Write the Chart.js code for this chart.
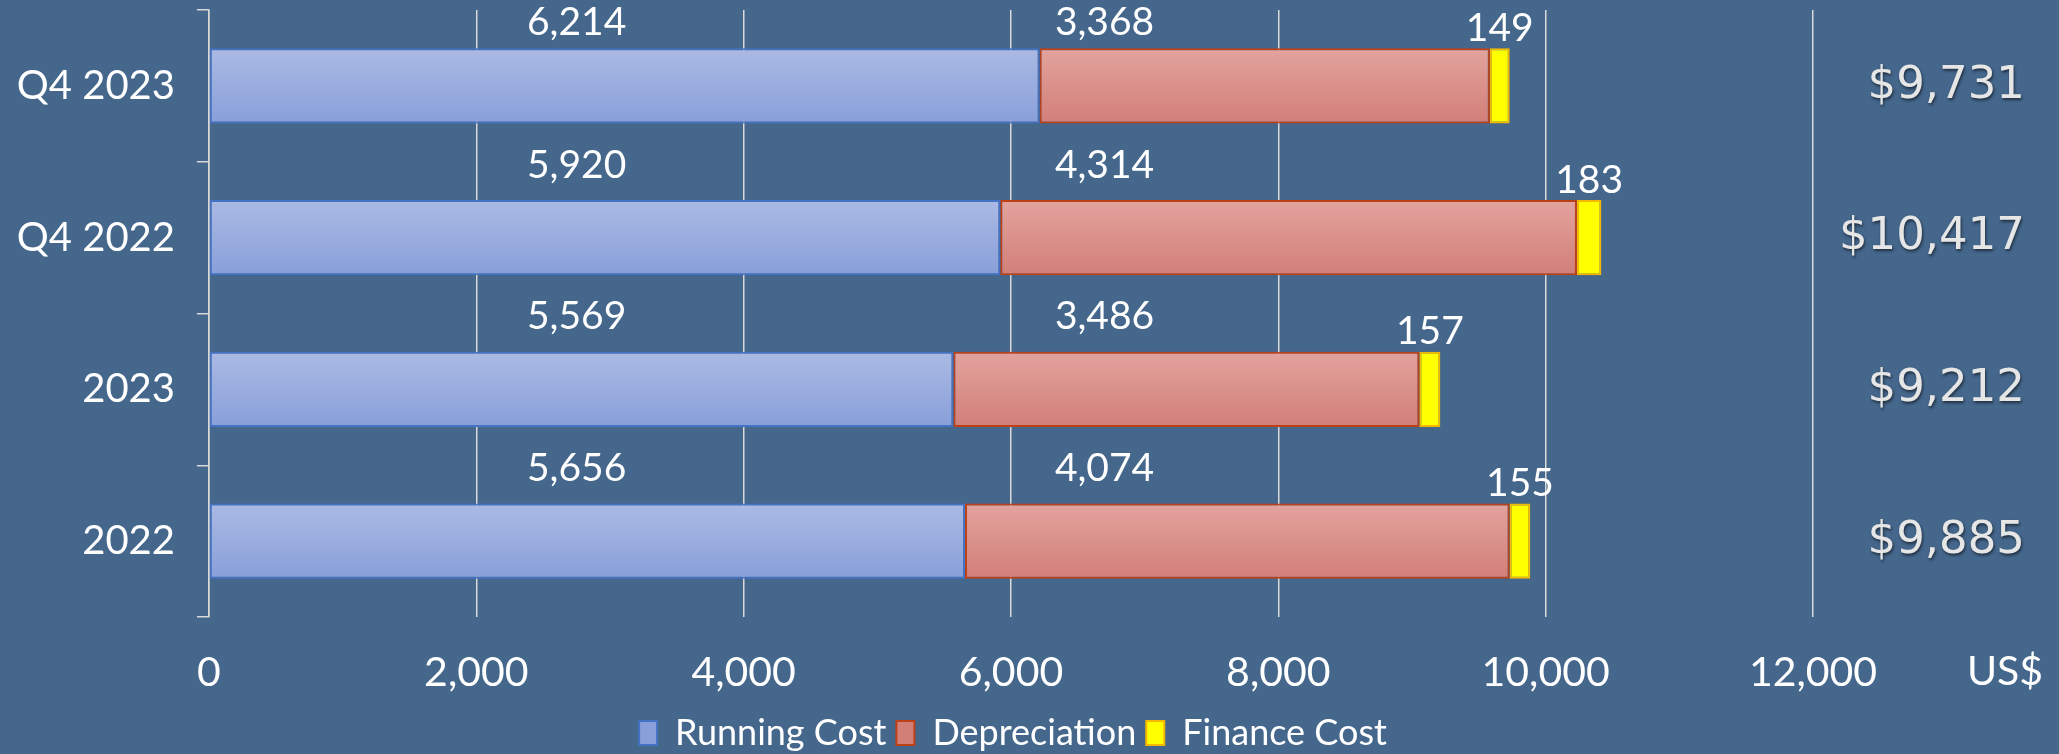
<!DOCTYPE html>
<html><head><meta charset="utf-8">
<script src="https://cdn.jsdelivr.net/npm/chart.js@4.4.0/dist/chart.umd.min.js"></script>
<style>html,body{margin:0;padding:0;background:#45678c;overflow:hidden}</style>
</head><body>
<canvas id="c" width="2059" height="754" style="display:block;width:2059px;height:754px"></canvas>
<script>
const categories = ['Q4 2023', 'Q4 2022', '2023', '2022'];
const runningCost = [6214, 5920, 5569, 5656];
const depreciation = [3368, 4314, 3486, 4074];
const financeCost = [149, 183, 157, 155];
const seriesNames = ['Running Cost', 'Depreciation', 'Finance Cost'];
const axisUnit = 'US$';

const BAR_CAT_PCT = 0.5, BAR_PCT = 0.99;
const X_TICK_PAD = 31;

function vGrad(top, bottom, flat) {
  return (c) => {
    if (c.type !== 'data') return flat;
    const ch = c.chart;
    if (!ch.chartArea || !ch.scales.y) return flat;
    const ys = ch.scales.y;
    const yc = ys.getPixelForValue(c.dataIndex);
    const half = (ys.height / categories.length) * BAR_CAT_PCT * BAR_PCT / 2;
    const g = ch.ctx.createLinearGradient(0, yc - half, 0, yc + half);
    g.addColorStop(0, top);
    g.addColorStop(1, bottom);
    return g;
  };
}

const fmt = v => Number(v).toLocaleString('en-US');

const labelPlugin = {
  id: 'segLabels',
  afterDatasetsDraw(chart, args, opts) {
    const { ctx, scales: { x } } = chart;
    ctx.save();
    ctx.font = '39px Lato';
    ctx.fillStyle = '#ffffff';
    ctx.textAlign = 'center';
    ctx.textBaseline = 'middle';
    chart.data.datasets.forEach((ds, di) => {
      const meta = chart.getDatasetMeta(di);
      meta.data.forEach((bar, i) => {
        const top = bar.y - bar.height / 2;
        let cx, cy;
        if (opts.anchors[di] != null) {
          cx = x.getPixelForValue(opts.anchors[di]);
          cy = top - 35;
        } else {
          cx = (bar.x + bar.base) / 2;
          cy = top - 20;
        }
        cy = Math.max(cy, opts.minY);
        ctx.fillText(fmt(ds.data[i]), cx, cy);
      });
    });
    // totals column
    const meta0 = chart.getDatasetMeta(0);
    ctx.font = '45px "DejaVu Sans"';
    ctx.textAlign = 'right';
    meta0.data.forEach((bar, i) => {
      const total = chart.data.datasets.reduce((s, ds) => s + ds.data[i], 0);
      ctx.save();
      ctx.shadowColor = 'rgba(0,0,0,0.55)';
      ctx.shadowOffsetX = 1;
      ctx.shadowOffsetY = 2;
      ctx.shadowBlur = 3;
      ctx.fillStyle = '#e6e6e6';
      ctx.fillText('$' + fmt(total), chart.width - 34, bar.y);
      ctx.restore();
    });
    // axis unit
    ctx.font = '41px Lato';
    ctx.textAlign = 'center';
    ctx.fillStyle = '#ffffff';
    ctx.fillText(axisUnit, chart.width - 54, x.top + X_TICK_PAD + 24);
    ctx.restore();
  }
};

new Chart(document.getElementById('c'), {
  type: 'bar',
  data: {
    labels: categories,
    datasets: [
      { label: seriesNames[0], data: runningCost,
        backgroundColor: vGrad('#abbae4', '#889fd9', '#a0b2e0'),
        borderColor: '#4472c4', borderWidth: 2, borderSkipped: false,
        categoryPercentage: BAR_CAT_PCT, barPercentage: BAR_PCT },
      { label: seriesNames[1], data: depreciation,
        backgroundColor: vGrad('#e3a39e', '#d27f78', '#dc948e'),
        borderColor: '#be4016', borderWidth: 2, borderSkipped: false,
        categoryPercentage: BAR_CAT_PCT, barPercentage: BAR_PCT },
      { label: seriesNames[2], data: financeCost,
        backgroundColor: '#ffff00',
        borderColor: '#f5b800', borderWidth: 2, borderSkipped: false,
        categoryPercentage: BAR_CAT_PCT, barPercentage: BAR_PCT }
    ]
  },
  options: {
    indexAxis: 'y',
    responsive: false,
    animation: false,
    devicePixelRatio: 1,
    layout: { padding: { left: 0, right: 33, top: 10, bottom: -7 } },
    scales: {
      x: {
        stacked: true, min: 0, max: 12000,
        ticks: { stepSize: 2000, color: '#ffffff', font: { family: 'Lato', size: 41 }, padding: X_TICK_PAD, callback: v => fmt(v), maxRotation: 0 },
        grid: { color: '#d9d9d9', lineWidth: 1.5, drawTicks: false },
        border: { display: false },
        afterFit: (axis) => { axis.height = 88; axis.paddingRight = 246; }
      },
      y: {
        stacked: true,
        ticks: { color: '#ffffff', font: { family: 'Lato', size: 40 }, padding: 22 },
        grid: { drawOnChartArea: false, color: '#d9d9d9', tickLength: 12, lineWidth: 1.5 },
        border: { display: true, color: '#d9d9d9', width: 1.5 },
        afterFit: (axis) => { axis.width = 209; axis.paddingTop = 0; axis.paddingBottom = 0; }
      }
    },
    plugins: {
      legend: {
        position: 'bottom',
        labels: { color: '#ffffff', font: { family: 'Lato', size: 36 }, boxWidth: 18, boxHeight: 24, padding: 10 }
      },
      tooltip: { enabled: false },
      segLabels: { anchors: [2750, 6700, null], minY: 22 }
    }
  },
  plugins: [labelPlugin]
});
</script>
</body></html>
